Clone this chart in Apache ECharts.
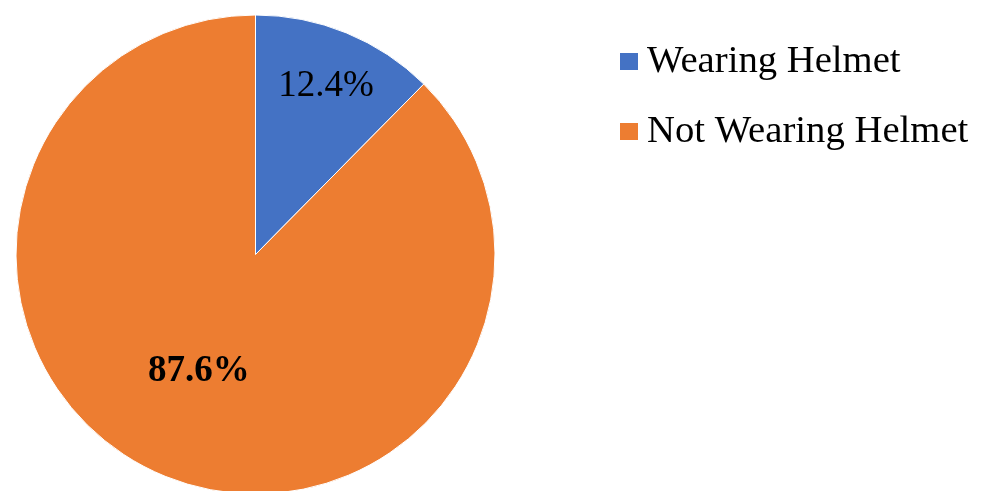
<!DOCTYPE html>
<html>
<head>
<meta charset="utf-8">
<script src="https://cdn.jsdelivr.net/npm/echarts@6/dist/echarts.min.js"></script>
<style>
html,body{margin:0;padding:0;background:#fff;}
#chart{width:985px;height:491px;}
</style>
</head>
<body>
<div id="chart"></div>
<script>
const categories = ["Wearing Helmet", "Not Wearing Helmet"];
const values = [12.4, 87.6];
const colors = ["#4472C4", "#ED7D31"];
const labelBold = [false, true];

const FONT = "'Liberation Serif', 'Times New Roman', serif";
const labelShift = [[24, -55], [-10, 3]];

const chart = echarts.init(document.getElementById('chart'));
chart.setOption({
  animation: false,
  backgroundColor: '#fff',
  legend: {
    orient: 'vertical',
    left: 613,
    top: 37,
    icon: 'rect',
    itemWidth: 20,
    itemHeight: 19,
    itemGap: 31,
    data: categories,
    textStyle: { fontFamily: FONT, fontSize: 38.7, color: '#000', padding: [0, 0, 0, 3] }
  },
  series: [{
    type: 'pie',
    center: [255.5, 254.5],
    radius: [0, 239.5],
    startAngle: 90,
    clockwise: true,
    data: categories.map((c, i) => ({
      name: c,
      value: values[i],
      itemStyle: { color: colors[i] },
      label: { fontWeight: labelBold[i] ? 'bold' : 'normal' }
    })),
    label: {
      show: true,
      position: 'inside',
      formatter: p => p.value.toFixed(1) + '%',
      fontFamily: FONT,
      fontSize: 37,
      color: '#000'
    },
    labelLayout: p => ({ dx: labelShift[p.dataIndex][0], dy: labelShift[p.dataIndex][1] }),
    labelLine: { show: false },
    itemStyle: { borderWidth: 1, borderColor: '#fff' },
    emphasis: { disabled: true }
  }]
});
</script>
</body>
</html>
